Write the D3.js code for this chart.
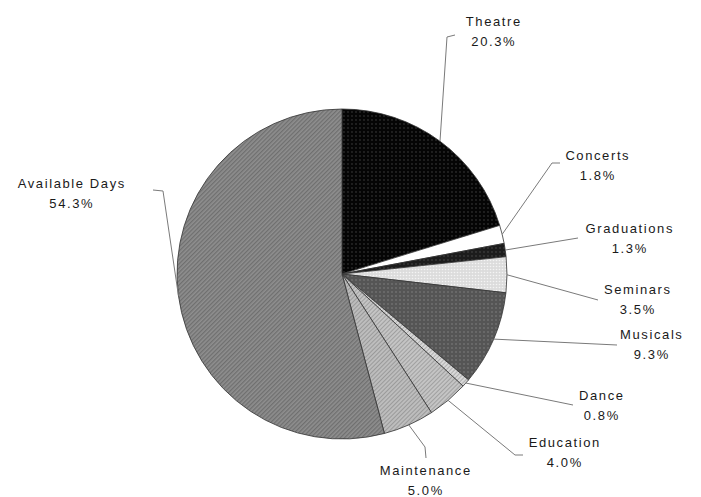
<!DOCTYPE html>
<html><head><meta charset="utf-8">
<script src="https://cdn.jsdelivr.net/npm/d3@7"></script>
<style>body{margin:0;background:#fff}svg{display:block}text{font-family:"Liberation Sans",Arial,sans-serif;font-size:13px;letter-spacing:1.6px;fill:#1a1a1a}</style>
</head><body>
<script>
const categories = ["Theatre","Concerts","Graduations","Seminars","Musicals","Dance","Education","Maintenance","Available Days"];
const values = [20.3,1.8,1.3,3.5,9.3,0.8,4.0,5.0,54.3];
const valueLabels = ["20.3%","1.8%","1.3%","3.5%","9.3%","0.8%","4.0%","5.0%","54.3%"];

// layout (label centres and leader elbows)
const labelPos = [[493,21],[597,155],[629,228],[637,289],[651,334],[601,395],[564,442],[425,470],[71,183]];
const elbows = [
  [[447,37],[455,35]],
  [[552,163],[560,163]],
  [[578,238]],
  [[598,300]],
  [[617,345]],
  [[573,405]],
  [[515,455],[523,455]],
  [[425,447],[426,458]],
  [[163,191],[153,190]]
];

const W=701,H=497,cx=342,cy=274,R=165;
const svg=d3.select("body").append("svg").attr("width",W).attr("height",H);
const defs=svg.append("defs");
function dotPat(id,bg,dot,step,rad){
  const p=defs.append("pattern").attr("id",id).attr("width",step).attr("height",step).attr("patternUnits","userSpaceOnUse");
  p.append("rect").attr("width",step).attr("height",step).attr("fill",bg);
  p.append("circle").attr("cx",step/2).attr("cy",step/2).attr("r",rad).attr("fill",dot);
}
function hatchPat(id,bg,line,step,sw){
  const p=defs.append("pattern").attr("id",id).attr("width",step).attr("height",step).attr("patternUnits","userSpaceOnUse").attr("patternTransform","rotate(45)");
  p.append("rect").attr("width",step).attr("height",step).attr("fill",bg);
  p.append("rect").attr("width",sw).attr("height",step).attr("fill",line);
}
dotPat("pTheatre","#050505","#2a2a2a",4,0.9);
dotPat("pGrad","#1c1c1c","#3a3a3a",4,0.9);
dotPat("pSem","#dcdcdc","#f4f4f4",3,0.8);
dotPat("pMus","#555","#6e6e6e",4,1);
hatchPat("pDance","#d8d8d8","#b0b0b0",3,1);
hatchPat("pEdu","#c4c4c4","#a0a0a0",3,1);
hatchPat("pMaint","#bdbdbd","#9a9a9a",3,1);
hatchPat("pAvail","#8f8f8f","#6f6f6f",3,1.3);
const fills=["url(#pTheatre)","#ffffff","url(#pGrad)","url(#pSem)","url(#pMus)","url(#pDance)","url(#pEdu)","url(#pMaint)","url(#pAvail)"];

const data=categories.map((c,i)=>({name:c,value:values[i],label:valueLabels[i],i:i}));
const pie=d3.pie().value(d=>d.value).sort(null);
const arcs=pie(data);
const arc=d3.arc().innerRadius(0).outerRadius(R);
const g=svg.append("g").attr("transform",`translate(${cx},${cy})`);
g.selectAll("path").data(arcs).join("path").attr("d",arc)
  .attr("fill",d=>fills[d.data.i]).attr("stroke","#333").attr("stroke-width",0.8);

// leader lines and labels
const line=d3.line();
arcs.forEach((a,i)=>{
  const m=(a.startAngle+a.endAngle)/2;
  const start=[cx+R*Math.sin(m),cy-R*Math.cos(m)];
  const pts=[start].concat(elbows[i]);
  svg.append("path").attr("d",line(pts)).attr("fill","none").attr("stroke","#7a7a7a").attr("stroke-width",1);
  const lx=labelPos[i][0]+0.8, ly=labelPos[i][1];
  svg.append("text").attr("x",lx).attr("y",ly+5).attr("text-anchor","middle").text(a.data.name);
  svg.append("text").attr("x",lx).attr("y",ly+25).attr("text-anchor","middle").text(a.data.label);
});
</script>
</body></html>
